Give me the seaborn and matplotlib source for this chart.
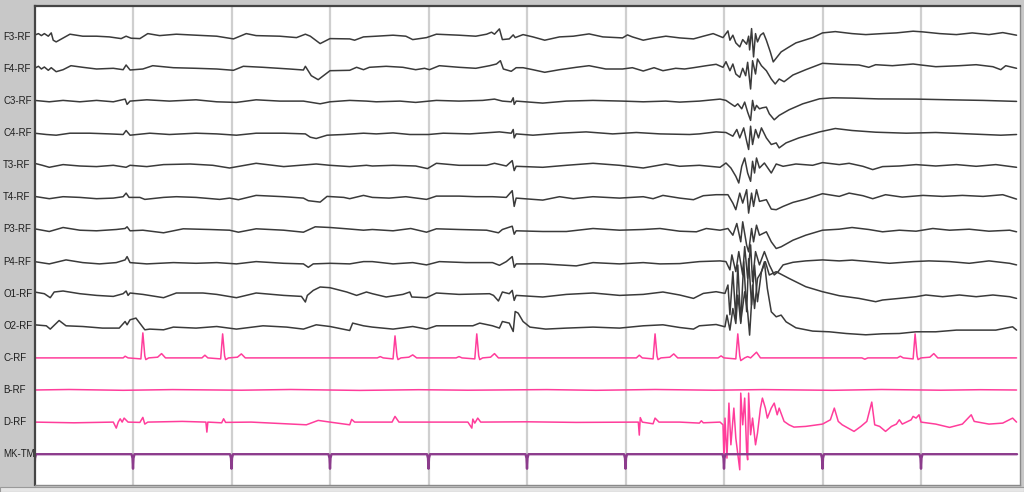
"""
EEG page redraw: 14 channels, 10 s, with 1 s marker channel.
Amplitudes in uV (10 uV per screen pixel), time in seconds.
"""

import numpy as np
import pandas as pd
import matplotlib
matplotlib.use("Agg")
import matplotlib.pyplot as plt
import matplotlib.transforms as mtransforms
from matplotlib.patches import Rectangle
import seaborn as sns

# ---------------------------------------------------------------- data
CHANNELS = ["F3-RF", "F4-RF", "C3-RF", "C4-RF", "T3-RF", "T4-RF", "P3-RF",
            "P4-RF", "O1-RF", "O2-RF", "C-RF", "B-RF", "D-RF", "MK-TM"]

F3_T = [0.00, 0.04, 0.07, 0.10, 0.14, 0.17, 0.19, 0.22, 0.36, 0.49, 0.63, 0.76, 0.88, 0.93, 0.98,
        1.07, 1.15, 1.27, 1.44, 1.64, 1.85, 2.02, 2.15, 2.25, 2.49, 2.66, 2.75, 2.80, 2.90, 3.00,
        3.20, 3.25, 3.34, 3.47, 3.64, 3.77, 3.84, 3.98, 4.08, 4.31, 4.48, 4.59, 4.64, 4.67, 4.72,
        4.75, 4.82, 4.86, 4.88, 4.96, 5.06, 5.18, 5.33, 5.47, 5.63, 5.77, 5.97, 6.02, 6.07, 6.18,
        6.28, 6.41, 6.55, 6.69, 6.79, 6.89, 6.99, 7.04, 7.06, 7.09, 7.12, 7.16, 7.19, 7.23, 7.25,
        7.26, 7.28, 7.30, 7.32, 7.34, 7.37, 7.40, 7.43, 7.47, 7.50, 7.54, 7.58, 7.65, 7.73, 7.90,
        8.00, 8.13, 8.30, 8.44, 8.61, 8.75, 8.92, 9.02, 9.19, 9.36, 9.52, 9.69, 9.83, 9.97]
F3_V = [17, 33, 13, 33, 7, 40, -33, -50, 27, 7, 7, 0, -17, 7, -13,
        -17, 33, 13, 27, 17, 7, -20, 33, 13, 7, -7, 27, 7, -67, -17,
        -20, -33, 0, 7, 17, 7, -27, -7, 27, 17, 7, 27, 47, 27, 80,
        -27, -20, 20, -7, 23, 0, -33, 0, 7, 30, 0, -10, 20, 0, -33,
        -13, 7, -10, -20, 7, 33, -7, 60, -33, 17, -60, -100, -27, -73, 7,
        -130, 83, -200, 33, -50, 17, 40, -33, -150, -250, -200, -150, -107, -60, -7,
        40, 53, 33, 23, 33, 40, 57, 50, 33, 23, 40, 23, 43, 17]

F4_T = [0.00, 0.04, 0.07, 0.10, 0.14, 0.17, 0.22, 0.29, 0.37, 0.49, 0.63, 0.80, 0.90, 0.93, 0.97,
        1.10, 1.20, 1.41, 1.64, 1.85, 2.02, 2.12, 2.32, 2.59, 2.73, 2.75, 2.81, 2.88, 3.00, 3.20,
        3.27, 3.34, 3.40, 3.57, 3.74, 3.87, 3.96, 4.01, 4.11, 4.31, 4.48, 4.62, 4.69, 4.73, 4.76,
        4.84, 4.89, 4.96, 5.06, 5.18, 5.33, 5.50, 5.63, 5.80, 5.97, 6.07, 6.18, 6.29, 6.38, 6.51,
        6.60, 6.69, 6.82, 6.92, 6.99, 7.02, 7.06, 7.09, 7.12, 7.16, 7.19, 7.22, 7.24, 7.27, 7.29,
        7.32, 7.34, 7.38, 7.43, 7.48, 7.52, 7.56, 7.61, 7.70, 7.83, 8.00, 8.17, 8.37, 8.47, 8.54,
        8.71, 8.92, 9.00, 9.15, 9.39, 9.56, 9.73, 9.81, 9.86, 9.97]
F4_V = [7, 27, 0, 20, -13, 13, -27, -7, 33, 17, 0, 7, -7, 40, -10,
        0, 33, 13, 7, 0, -13, 27, 17, 0, -10, 27, -67, -107, -17, -13,
        17, -7, 17, 27, 17, -7, 7, -7, 33, 17, 7, 33, 50, 83, 0,
        -23, 13, 13, -7, -33, -7, 17, 33, 0, 0, 13, -20, 13, -17, 7,
        0, 13, 33, 47, 17, 73, -17, 50, -50, -83, 7, -67, 67, -200, 83,
        -50, 100, 33, -17, -100, -150, -100, -127, -60, -7, 57, 47, 40, 17, 43,
        33, 50, 40, 23, 33, 43, 23, -7, 33, 7]

C3_T = [0.00, 0.15, 0.29, 0.46, 0.63, 0.80, 0.92, 0.94, 0.97, 1.14, 1.37, 1.64, 1.85, 2.05, 2.25,
        2.49, 2.73, 2.90, 3.00, 3.20, 3.37, 3.47, 3.71, 3.87, 4.08, 4.31, 4.55, 4.67, 4.75, 4.84,
        4.86, 4.87, 4.89, 5.16, 5.40, 5.67, 5.97, 6.18, 6.41, 6.55, 6.75, 6.96, 7.02, 7.07, 7.11,
        7.14, 7.18, 7.21, 7.24, 7.27, 7.29, 7.31, 7.33, 7.36, 7.39, 7.43, 7.46, 7.51, 7.56, 7.66,
        7.80, 7.97, 8.10, 8.30, 8.57, 8.95, 9.29, 9.63, 9.97]
C3_V = [7, -7, 7, -7, 7, -7, 20, -33, 0, 13, 0, 13, -7, -13, 13,
        0, 0, -27, -7, 7, 0, -7, 0, -13, 7, 0, 7, 20, 0, -7,
        33, -33, 0, -20, 0, 7, 0, -7, 0, -10, 0, 20, 7, -27, -53,
        -27, -77, -10, -110, -193, 7, -93, -43, -77, -67, -60, -127, -187, -143, -87,
        -27, 23, 33, 30, 22, 20, 13, 7, -3]

C4_T = [0.00, 0.12, 0.22, 0.36, 0.56, 0.76, 0.90, 0.93, 0.97, 1.17, 1.37, 1.64, 1.85, 2.05, 2.25,
        2.53, 2.75, 2.80, 2.86, 2.97, 3.14, 3.34, 3.47, 3.64, 3.81, 4.00, 4.15, 4.42, 4.72, 4.84,
        4.86, 4.87, 4.89, 5.06, 5.33, 5.60, 5.87, 6.11, 6.35, 6.65, 6.75, 6.92, 7.02, 7.09, 7.13,
        7.16, 7.20, 7.23, 7.25, 7.27, 7.29, 7.32, 7.35, 7.38, 7.43, 7.48, 7.53, 7.56, 7.63, 7.76,
        7.97, 8.13, 8.30, 8.54, 8.85, 9.15, 9.49, 9.81, 9.97]
C4_V = [0, -13, -20, 0, 0, -7, -13, 27, -20, 0, -13, 0, -7, -20, 0,
        0, -7, -40, -53, -20, -13, 0, -7, 3, -13, -13, 0, -7, 13, 0,
        37, -47, -7, -20, 0, 13, -7, 7, -7, -13, -7, 13, 7, -30, 37,
        -47, 53, -80, -163, 70, -113, 37, -47, 53, -47, -113, -97, -147, -97, -47,
        13, 47, 27, 10, 0, 7, -7, -20, -13]

T3_T = [0.00, 0.08, 0.15, 0.29, 0.46, 0.63, 0.80, 0.93, 0.97, 1.14, 1.31, 1.58, 1.81, 1.98, 2.25,
        2.53, 2.86, 3.00, 3.20, 3.37, 3.43, 3.64, 3.87, 3.99, 4.08, 4.31, 4.59, 4.67, 4.79, 4.85,
        4.87, 4.89, 5.16, 5.40, 5.67, 5.94, 6.18, 6.41, 6.55, 6.75, 6.96, 7.02, 7.07, 7.12, 7.15,
        7.18, 7.21, 7.24, 7.27, 7.29, 7.31, 7.33, 7.36, 7.41, 7.48, 7.53, 7.60, 7.73, 7.90, 8.00,
        8.17, 8.27, 8.41, 8.51, 8.61, 8.78, 8.95, 9.15, 9.36, 9.56, 9.76, 9.97]
T3_V = [20, 0, -20, 7, -7, -13, 0, -20, 0, -13, 7, 13, 0, -27, 20,
        -13, 13, 0, -13, 0, -7, 0, -7, -33, 20, 0, 0, 20, -7, 47,
        -53, -10, -20, 0, 20, 0, -27, 13, -10, 0, -20, 23, -27, -110, -177,
        -10, 73, -77, -160, 40, -77, 73, -27, 23, -77, 13, -10, 13, 0, 27,
        7, 20, -10, -43, -13, -7, 7, -7, 7, -10, 7, -20]

T4_T = [0.00, 0.15, 0.29, 0.46, 0.63, 0.80, 0.90, 0.93, 0.96, 1.07, 1.12, 1.31, 1.44, 1.64, 1.88,
        1.98, 2.07, 2.25, 2.53, 2.73, 2.78, 2.90, 2.97, 3.14, 3.20, 3.34, 3.43, 3.60, 3.77, 3.98,
        4.08, 4.31, 4.48, 4.65, 4.79, 4.85, 4.87, 4.89, 5.16, 5.33, 5.47, 5.67, 5.94, 6.18, 6.28,
        6.38, 6.55, 6.69, 6.79, 6.92, 7.04, 7.09, 7.12, 7.16, 7.19, 7.23, 7.25, 7.28, 7.30, 7.33,
        7.36, 7.43, 7.48, 7.53, 7.60, 7.70, 7.83, 8.00, 8.17, 8.27, 8.41, 8.51, 8.64, 8.81, 9.02,
        9.22, 9.42, 9.63, 9.83, 9.97]
T4_V = [10, -13, 7, 0, -13, -7, 7, 43, 0, 0, -20, 0, 7, 0, -20,
        -7, -23, 20, 7, -7, -33, -47, 10, 0, -13, 20, 0, -7, 7, -20,
        13, 13, 7, 7, 0, 67, -90, -7, -27, 7, -13, 7, -7, 7, -13,
        20, -7, -23, 17, 27, 27, -57, -123, 43, -57, 77, -157, 43, -90, 77,
        -40, -23, -117, -123, -90, -50, -17, 37, 10, 43, 17, -13, 27, 3, 20,
        10, 20, 10, 27, -17]

P3_T = [0.00, 0.15, 0.29, 0.46, 0.63, 0.83, 0.92, 0.94, 0.97, 1.10, 1.31, 1.51, 1.78, 1.98, 2.07,
        2.25, 2.53, 2.73, 2.85, 3.00, 3.17, 3.34, 3.43, 3.64, 3.82, 3.98, 4.08, 4.31, 4.59, 4.71,
        4.75, 4.85, 4.87, 4.89, 5.16, 5.40, 5.67, 5.94, 6.18, 6.35, 6.55, 6.72, 6.82, 6.96, 7.04,
        7.09, 7.13, 7.17, 7.19, 7.23, 7.25, 7.28, 7.30, 7.33, 7.36, 7.43, 7.48, 7.53, 7.58, 7.70,
        7.83, 8.00, 8.17, 8.30, 8.47, 8.61, 8.78, 8.95, 9.12, 9.29, 9.49, 9.69, 9.90, 9.97]
P3_V = [7, -20, 20, -7, -13, 0, 10, 27, -13, -7, -33, 7, 0, -7, -27,
        7, -7, -27, 27, 20, 7, -7, 0, -13, 10, -27, 7, 0, -7, -33,
        0, 33, -47, -13, -20, -20, 10, -7, 0, 10, -17, -23, 10, -7, 10,
        -57, 60, -123, 77, -157, -223, 10, -123, 43, -57, -23, -123, -190, -173, -107,
        -57, -7, 3, 20, 0, -23, -7, -17, 10, -7, 3, -17, -7, -23]

P4_T = [0.00, 0.15, 0.32, 0.49, 0.66, 0.83, 0.92, 0.94, 0.97, 1.14, 1.41, 1.64, 1.85, 2.05, 2.25,
        2.53, 2.73, 2.78, 2.83, 3.00, 3.20, 3.34, 3.43, 3.64, 3.84, 3.98, 4.11, 4.38, 4.65, 4.72,
        4.79, 4.85, 4.87, 4.89, 5.16, 5.50, 5.67, 5.94, 6.18, 6.35, 6.55, 6.75, 6.96, 7.02, 7.06,
        7.08, 7.12, 7.15, 7.19, 7.21, 7.24, 7.27, 7.29, 7.32, 7.36, 7.41, 7.46, 7.51, 7.55, 7.60,
        7.70, 7.83, 8.00, 8.17, 8.30, 8.48, 8.68, 8.92, 9.08, 9.29, 9.49, 9.69, 9.90, 9.97]
P4_V = [0, -23, 17, -10, -23, -10, 17, 50, -10, -23, -10, -17, -10, -23, 0,
        -17, -23, -57, -23, -17, -23, 0, 0, -23, -10, -33, 0, -10, -10, -37,
        0, 50, -57, -23, -23, -43, -10, -23, -10, -23, -20, 0, 7, 0, -83,
        67, -100, 100, -133, 150, -167, 167, -200, 100, -33, 100, -33, -133, -100, -33,
        -7, 7, 17, 7, 15, 0, -17, 0, 7, 0, -17, 7, -17, -33]

O1_T = [0.00, 0.10, 0.16, 0.20, 0.29, 0.46, 0.63, 0.80, 0.90, 0.93, 0.95, 0.97, 1.10, 1.31, 1.44,
        1.71, 1.85, 2.05, 2.25, 2.53, 2.71, 2.75, 2.77, 2.83, 2.90, 3.00, 3.17, 3.27, 3.37, 3.43,
        3.57, 3.74, 3.81, 3.83, 3.98, 4.08, 4.31, 4.62, 4.66, 4.71, 4.75, 4.82, 4.85, 4.87, 4.89,
        5.16, 5.40, 5.67, 5.94, 6.18, 6.38, 6.55, 6.69, 6.79, 6.92, 7.01, 7.04, 7.06, 7.09, 7.12,
        7.14, 7.17, 7.20, 7.23, 7.25, 7.28, 7.31, 7.34, 7.38, 7.42, 7.46, 7.53, 7.66, 7.83, 8.00,
        8.17, 8.37, 8.54, 8.61, 8.78, 8.95, 9.05, 9.22, 9.39, 9.56, 9.73, 9.90, 9.97]
O1_V = [17, 0, -40, 17, 27, 0, -17, -27, 0, 27, -17, 7, -7, -40, 7,
        7, -7, -40, 7, -17, -27, -83, -17, 33, 67, 60, 17, -17, 17, 0,
        -33, -7, 17, -33, -40, 7, -7, 0, -17, -73, 17, 0, 33, -67, -17,
        -33, -7, 7, -17, -7, 17, -13, -47, 3, 20, 3, 87, -210, 220, -247,
        287, -297, 320, -180, 350, -113, 287, -80, 220, 320, 187, 220, 153, 70, 20,
        -20, -47, -80, -63, -47, -30, -13, -30, -13, -30, -13, -30, -47]

O2_T = [0.00, 0.12, 0.16, 0.25, 0.32, 0.49, 0.69, 0.86, 0.92, 0.94, 0.97, 1.03, 1.12, 1.17, 1.31,
        1.41, 1.64, 1.85, 2.05, 2.32, 2.56, 2.73, 2.86, 3.00, 3.20, 3.23, 3.34, 3.43, 3.64, 3.84,
        3.98, 4.08, 4.31, 4.45, 4.52, 4.65, 4.72, 4.75, 4.82, 4.86, 4.88, 4.91, 4.96, 5.03, 5.19,
        5.40, 5.67, 5.94, 6.18, 6.38, 6.55, 6.69, 6.75, 6.92, 7.01, 7.03, 7.06, 7.09, 7.12, 7.14,
        7.17, 7.21, 7.24, 7.26, 7.29, 7.31, 7.34, 7.38, 7.41, 7.44, 7.48, 7.53, 7.58, 7.63, 7.73,
        7.90, 8.07, 8.24, 8.44, 8.61, 8.78, 8.95, 9.15, 9.36, 9.56, 9.76, 9.93, 9.97]
O2_V = [10, 0, -33, 53, 0, -7, -23, -23, 43, 10, 60, 77, -40, -33, -40,
        -13, -23, -7, -33, 0, -13, -33, 10, -7, -47, 27, 0, -13, -33, -7,
        -33, 0, 0, 0, 27, 0, -23, 43, 27, -57, 143, 127, 43, -13, -33,
        -23, -13, -23, 0, 10, -17, -33, 0, 13, -10, 107, -43, 173, 23, 307,
        40, 340, 140, -93, 407, 173, 473, 540, 640, 373, 140, 90, 107, 40, -20,
        -53, -60, -77, -90, -80, -77, -60, -60, -43, -43, -43, -10, -43]

CRF_T = [0.00, 0.90, 0.92, 0.95, 1.08, 1.10, 1.12, 1.13, 1.16, 1.25, 1.29, 1.33,
         1.70, 1.73, 1.76, 1.89, 1.91, 1.93, 1.94, 1.97, 2.06, 2.10, 2.14,
         3.48, 3.51, 3.54, 3.64, 3.66, 3.68, 3.69, 3.72, 3.80, 3.84, 3.88,
         4.28, 4.31, 4.34, 4.47, 4.49, 4.51, 4.52, 4.55, 4.63, 4.67, 4.71,
         6.11, 6.14, 6.17, 6.28, 6.30, 6.32, 6.33, 6.36, 6.45, 6.49, 6.53,
         6.94, 6.97, 7.00, 7.12, 7.14, 7.16, 7.17, 7.21, 7.24, 7.27, 7.33, 7.37,
         8.40, 8.43, 8.46, 8.76, 8.79, 8.82, 8.92, 8.94, 8.96, 8.97, 9.00, 9.09, 9.13, 9.17, 9.97]
CRF_V = [0, 0, 17, 0, -10, 250, 20, -17, 0, 7, 43, 0,
         0, 27, 0, -10, 240, 20, -17, 0, 7, 40, 0,
         0, 13, 0, -10, 220, 20, -17, 0, 7, 30, 0,
         0, 13, 0, -10, 240, 20, -17, 0, 7, 43, 0,
         0, 27, 0, -10, 240, 20, -17, 0, 7, 40, 0,
         0, 20, 0, -10, 240, 20, -27, 0, 13, 0, 57, 0,
         0, -13, 0, 0, 17, 0, -10, 240, 20, -17, 0, 7, 43, 0, 0]

BRF_T = [0.00, 0.35, 0.90, 1.40, 2.10, 2.60, 3.30, 3.90, 4.40, 5.20, 5.70, 6.30, 6.90,
         7.40, 8.10, 8.60, 9.20, 9.60, 9.97]
BRF_V = [0, 5, -3, 4, -2, 5, -4, 3, -2, 4, -3, 5, -2, 4, -3, 5, -2, 3, 0]

DRF_T = [0.00, 0.40, 0.80, 0.83, 0.85, 0.87, 0.89, 0.91, 0.95, 1.07, 1.10, 1.12, 1.15, 1.50,
         1.74, 1.75, 1.76, 1.90, 1.92, 1.94, 2.20, 2.76, 2.88, 3.00, 3.20, 3.22, 3.25, 3.63,
         3.66, 3.70, 4.40, 4.44, 4.45, 4.47, 4.50, 4.53, 5.00, 5.50, 6.13, 6.14, 6.15, 6.17,
         6.28, 6.30, 6.34, 6.55, 6.75, 6.77, 6.79, 6.96, 6.99, 7.00, 7.01, 7.03, 7.05, 7.07,
         7.10, 7.12, 7.16, 7.17, 7.19, 7.21, 7.23, 7.24, 7.25, 7.27, 7.29, 7.32, 7.34, 7.37,
         7.39, 7.42, 7.44, 7.48, 7.51, 7.54, 7.56, 7.61, 7.66, 7.71, 7.83, 8.00, 8.08, 8.12,
         8.16, 8.20, 8.32, 8.39, 8.45, 8.50, 8.53, 8.58, 8.64, 8.70, 8.75, 8.78, 8.81, 8.90,
         8.92, 8.95, 8.98, 9.00, 9.15, 9.29, 9.42, 9.51, 9.54, 9.69, 9.83, 9.93, 9.97]
DRF_V = [0, -7, 0, -60, 0, 33, 0, 40, 0, -3, 47, -20, 0, 7,
         0, -100, 0, -7, 33, -3, 0, -27, 17, 0, -27, 27, 0, 0,
         57, 0, 0, -60, 30, -10, 40, 0, 3, -3, 0, -130, 45, 0,
         -17, 40, 0, 0, -10, 13, -7, 0, -27, -377, 40, -360, 190, -227,
         140, -160, -477, 290, -27, 240, -293, -377, 290, -127, 40, -227, -110, 140,
         240, 140, 40, 140, 190, 73, 140, 7, -27, -50, -43, -20, 23, 140,
         7, -27, -93, -43, 7, 200, -27, -43, -93, -43, -20, 23, -20, 23,
         57, 40, 73, 0, -20, -53, -20, 73, 7, -20, -10, 40, 0]

MK_T = [0.000, 0.005, 0.015,
        0.985, 0.995, 1.000, 1.005, 1.015, 1.985, 1.995, 2.000, 2.005, 2.015,
        2.985, 2.995, 3.000, 3.005, 3.015, 3.985, 3.995, 4.000, 4.005, 4.015,
        4.985, 4.995, 5.000, 5.005, 5.015, 5.985, 5.995, 6.000, 6.005, 6.015,
        6.985, 6.995, 7.000, 7.005, 7.015, 7.985, 7.995, 8.000, 8.005, 8.015,
        8.985, 8.995, 9.000, 9.005, 9.015, 9.975]
MK_V = [-145, -40, 0,
        0, -40, -145, -40, 0, 0, -40, -145, -40, 0,
        0, -40, -145, -40, 0, 0, -40, -145, -40, 0,
        0, -40, -145, -40, 0, 0, -40, -145, -40, 0,
        0, -40, -145, -40, 0, 0, -40, -145, -40, 0,
        0, -40, -145, -40, 0, 0]

SECONDS = [1, 2, 3, 4, 5, 6, 7, 8, 9]

# ---------------------------------------------------------------- style
SPACING = 321          # uV between channel baselines
EEG_COLOR = "#3a3a3a"
POLY_COLOR = "#ff3d9b"
MARK_COLOR = "#8c3c8c"
PANEL_COLOR = "#c8c8c8"

sns.set_theme(style="white")
plt.rcParams["font.family"] = ["Liberation Sans", "DejaVu Sans"]

series = [(F3_T, F3_V), (F4_T, F4_V), (C3_T, C3_V), (C4_T, C4_V), (T3_T, T3_V),
          (T4_T, T4_V), (P3_T, P3_V), (P4_T, P4_V), (O1_T, O1_V), (O2_T, O2_V),
          (CRF_T, CRF_V), (BRF_T, BRF_V), (DRF_T, DRF_V), (MK_T, MK_V)]

frames = []
for i, (name, (t, v)) in enumerate(zip(CHANNELS, series)):
    frames.append(pd.DataFrame({
        "time": t,
        "trace": np.asarray(v, dtype=float) - i * SPACING,
        "channel": name,
    }))
df = pd.concat(frames, ignore_index=True)

palette = {name: EEG_COLOR for name in CHANNELS[:10]}
palette.update({"C-RF": POLY_COLOR, "B-RF": POLY_COLOR, "D-RF": POLY_COLOR,
                "MK-TM": MARK_COLOR})

fig = plt.figure(figsize=(10.24, 4.92), dpi=100, facecolor=PANEL_COLOR)
ax = fig.add_axes([34.5 / 1024, 7 / 492, 985 / 1024, 479 / 492])
ax.set_facecolor("white")

# one-second grid
for s in SECONDS:
    ax.axvline(s, color="#cfcfcf", lw=1.6, zorder=0)

sns.lineplot(data=df[df["channel"] != "MK-TM"], x="time", y="trace", hue="channel",
             palette=palette, estimator=None, sort=False, legend=False,
             linewidth=1.1, ax=ax)
sns.lineplot(data=df[df["channel"] == "MK-TM"], x="time", y="trace", hue="channel",
             palette=palette, estimator=None, sort=False, legend=False,
             linewidth=1.7, ax=ax)

ax.set_xlim(0, 10)
ax.set_ylim(-4481, 309)
ax.set_xticks([])
ax.set_yticks([])
ax.set_xlabel("")
ax.set_ylabel("")

for side in ["top", "left"]:
    ax.spines[side].set_color("#454545")
    ax.spines[side].set_linewidth(1.6)
for side in ["right", "bottom"]:
    ax.spines[side].set_color("#8a8a8a")
    ax.spines[side].set_linewidth(1.0)

# channel labels in the left panel
trans = mtransforms.blended_transform_factory(fig.transFigure, ax.transData)
for i, name in enumerate(CHANNELS):
    ax.text(3 / 1024, -i * SPACING, name, transform=trans, ha="left", va="center",
            fontsize=7, color="#1e1e1e", clip_on=False)

# scrollbar strip at the bottom
fig.add_artist(Rectangle((0, 0), 1, 5 / 492, transform=fig.transFigure,
                         facecolor="#e6e6e6", edgecolor="#9a9a9a", lw=0.8))

fig.savefig("out.png", dpi=100, facecolor=PANEL_COLOR)
